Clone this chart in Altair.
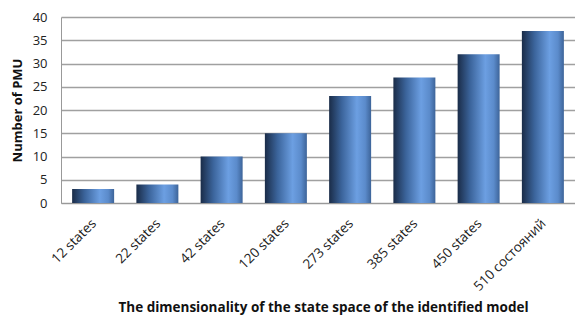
import altair as alt
import pandas as pd

categories = ["12 states", "22 states", "42 states", "120 states", "273 states",
              "385 states", "450 states", "510 состояний"]
values = [3, 4, 10, 15, 23, 27, 32, 37]

df = pd.DataFrame({"cat": categories, "val": values})

grad = alt.Gradient(
    gradient="linear",
    stops=[
        alt.GradientStop(color="#1a2c48", offset=0),
        alt.GradientStop(color="#3b649b", offset=0.3),
        alt.GradientStop(color="#6c9fe2", offset=0.66),
        alt.GradientStop(color="#5b8bcb", offset=0.86),
        alt.GradientStop(color="#3d6499", offset=1),
    ],
    x1=0, x2=1, y1=0, y2=0,
)

font = "Open Sans"

chart = alt.Chart(df).mark_bar(color=grad, size=42).encode(
    x=alt.X("cat:N", sort=categories,
            title="The dimensionality  of the state space  of the identified model",
            scale=alt.Scale(paddingInner=0, paddingOuter=0),
            axis=alt.Axis(labelAngle=-45, labelAlign="right", labelBaseline="middle",
                          labelFontSize=13.5, labelColor="#222", ticks=False,
                          labelPadding=18, labelOffset=1, domainColor="#999",
                          titleFontSize=13.5, titleFontWeight="bold", titleColor="#111",
                          titlePadding=7, titleX=262, labelFont=font, titleFont=font)),
    y=alt.Y("val:Q", title="Number of PMU",
            scale=alt.Scale(domain=[0, 40]),
            axis=alt.Axis(values=list(range(0, 41, 5)), ticks=False, labelFontSize=13,
                          labelColor="#222", labelPadding=14, domainColor="#999",
                          gridColor="#a0a0a0", gridWidth=1.4, titleFontSize=13,
                          titleFontWeight="bold", titleColor="#111", titlePadding=8,
                          labelFont=font, titleFont=font)),
).properties(
    width=514, height=186,
    autosize=alt.AutoSizeParams(type="none"),
    padding={"left": 61, "top": 17, "right": 0, "bottom": 117},
).configure_view(stroke=None)

chart.save("out.html", embed_options={"renderer": "svg", "actions": False})
